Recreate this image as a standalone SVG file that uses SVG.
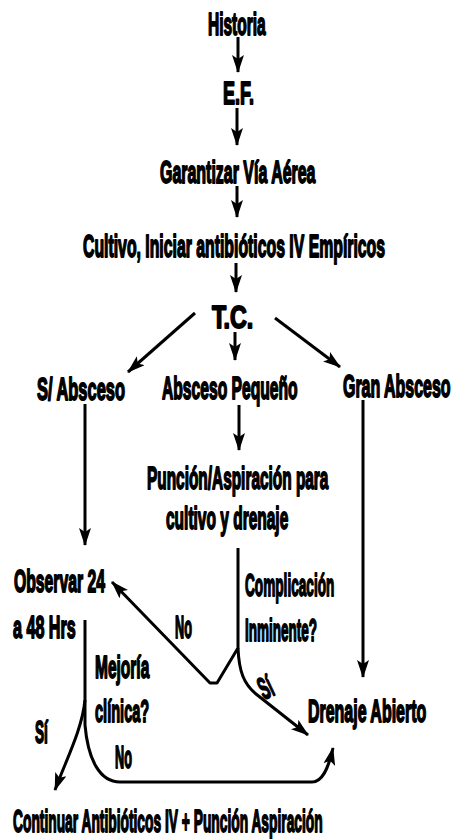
<svg xmlns="http://www.w3.org/2000/svg" width="454" height="839" viewBox="0 0 454 839">
<style>
text{font-family:"Liberation Sans","Arial",sans-serif;font-weight:bold;font-size:31px;fill:#000;stroke:#000;stroke-width:1.8px;stroke-linejoin:round}
.c{fill:none;stroke:#000;stroke-width:3;stroke-linejoin:round;marker-end:url(#ah)}
</style>
<defs>
<marker id="ah" viewBox="0 0 18 12" refX="17" refY="6" markerWidth="18" markerHeight="12" markerUnits="userSpaceOnUse" orient="auto">
<path d="M0,0 L18,6 L0,12 L4,6 z" fill="#000"/>
</marker>
</defs>
<rect width="454" height="839" fill="#fff"/>
<g id="connectors">
<path class="c" d="M238,37 V72"/>
<path class="c" d="M237,108 V145"/>
<path class="c" d="M237,186 V217"/>
<path class="c" d="M236,263 V292"/>
<path class="c" d="M195,313 L128,372"/>
<path class="c" d="M235,332 V360"/>
<path class="c" d="M275,318 L340,367"/>
<path class="c" d="M239,405 V450"/>
<path class="c" d="M85,404 V545"/>
<path class="c" d="M363,400 V677"/>
<path class="c" d="M238,548 V648 L217,683 H210 L112,582"/>
<path class="c" d="M238,648 C239,672 244,684 256,694 L308,735"/>
<path class="c" d="M85,620 V700 C82,730 66,760 55,790"/>
<path class="c" d="M85,700 V725 C88,760 100,782 120,782 H312 C322,782 328,770 333,748"/>
</g>
<g id="n_historia"><text transform="translate(208,35) scale(0.50,1)">Historia</text></g>
<g id="n_ef"><text transform="translate(223,104) scale(0.58,1)">E.F.</text></g>
<g id="n_via"><text transform="translate(160,183) scale(0.515,1)">Garantizar Vía Aérea</text></g>
<g id="n_cultivo"><text transform="translate(83,257) scale(0.51,1)">Cultivo, Iniciar antibióticos IV Empíricos</text></g>
<g id="n_tc"><text transform="translate(212,328) scale(0.75,1)">T.C.</text></g>
<g id="n_sin"><text transform="translate(37,400) scale(0.53,1)">S/ Absceso</text></g>
<g id="n_peq"><text transform="translate(162,399) scale(0.505,1)">Absceso Pequeño</text></g>
<g id="n_gran"><text transform="translate(343,397) scale(0.515,1)">Gran Absceso</text></g>
<g id="n_puncion">
<text transform="translate(147,489) scale(0.497,1)">Punción/Aspiración para</text>
<text transform="translate(166,529) scale(0.50,1)">cultivo y drenaje</text>
</g>
<g id="n_observar">
<text transform="translate(14,592) scale(0.508,1)">Observar 24</text>
<text transform="translate(13,638) scale(0.52,1)">a 48 Hrs</text>
</g>
<g id="n_complicacion">
<text transform="translate(245,596) scale(0.44,1)">Complicación</text>
<text transform="translate(245,641) scale(0.435,1)">Inminente?</text>
</g>
<g id="n_mejoria">
<text transform="translate(95,678) scale(0.50,1)">Mejoría</text>
<text transform="translate(95,722) scale(0.47,1)">clínica?</text>
</g>
<g id="n_drenaje"><text transform="translate(308,722) scale(0.515,1)">Drenaje Abierto</text></g>
<g id="n_continuar"><text transform="translate(13,832) scale(0.445,1)">Continuar Antibióticos IV + Punción Aspiración</text></g>
<g id="edge_labels">
<text transform="translate(175,638) scale(0.41,1)">No</text>
<text transform="translate(264,700) rotate(-25) scale(0.45,1)">Sí</text>
<text transform="translate(35,743) scale(0.44,1)">Sí</text>
<text transform="translate(115,768) scale(0.41,1)">No</text>
</g>
</svg>
